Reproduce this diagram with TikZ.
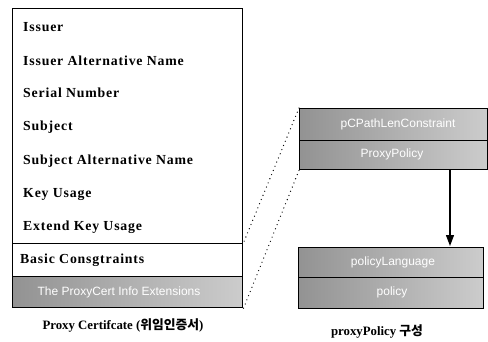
\documentclass[tikz,border=0pt]{standalone}
\usepackage{fontspec}
\setmainfont{Liberation Serif}
\newfontfamily\rowfont[LetterSpace=6]{Liberation Serif}
\newfontfamily\grayfont{Liberation Sans}
\newfontfamily\kofont{Noto Sans CJK KR}
\usetikzlibrary{arrows.meta}
\begin{document}
\begin{tikzpicture}[x=1pt,y=-1pt,
  frame/.style={draw=black,line width=1.4pt,inner sep=0pt,anchor=north west},
  grayrow/.style={frame,left color=gray!85,right color=gray!40},
  rowtext/.style={anchor=west,inner sep=0pt,font=\rowfont\bfseries\fontsize{13.8}{15}\selectfont},
  graytext/.style={inner sep=0pt,text=white,font=\grayfont\fontsize{12}{13}\selectfont},
  caption/.style={inner sep=0pt,font=\bfseries\fontsize{12.8}{14}\selectfont},
  dots/.style={line width=1.3pt,line cap=round,dash pattern=on 0pt off 4.5pt},
  arrowline/.style={line width=1.2pt,-{Triangle[length=11pt,width=8pt]}}]
\useasboundingbox (0,0) rectangle (488,341);
\fill[white] (0,0) rectangle (488,341);
% left certificate
\node[frame,minimum width=230pt,minimum height=299pt] (cert) at (12,8) {};
\node[frame,minimum width=230pt,minimum height=33pt] (basic) at (12,243) {};
\node[grayrow,minimum width=230pt,minimum height=31pt] (ext) at (12,276) {};
\node[rowtext] (r1) at (23,27) {Issuer};
\node[rowtext] (r2) at (23,61) {Issuer Alternative Name};
\node[rowtext] (r3) at (23,93) {Serial Number};
\node[rowtext] (r4) at (23,127) {Subject};
\node[rowtext] (r5) at (23,161) {Subject Alternative Name};
\node[rowtext] (r6) at (23,194) {Key Usage};
\node[rowtext] (r7) at (23,227) {Extend Key Usage};
\node[rowtext] (r8) at (20,260) {Basic Consgtraints};
\node[graytext] (r9) at (119,292) {The ProxyCert Info Extensions};
\node[caption] (cap1) at (123,325) {Proxy Certifcate ({\kofont 위임인증서})};
% right top
\node[grayrow,minimum width=188pt,minimum height=32pt] (pc) at (299,108) {};
\node[grayrow,minimum width=188pt,minimum height=29pt] (pp) at (299,140) {};
\node[graytext] (pct) at (398,124) {pCPathLenConstraint};
\node[graytext] (ppt) at (392,154) {ProxyPolicy};
% right bottom
\node[grayrow,minimum width=185pt,minimum height=30pt] (pl) at (298,247) {};
\node[grayrow,minimum width=185pt,minimum height=31pt] (po) at (298,277) {};
\node[graytext] (plt) at (393,262) {policyLanguage};
\node[graytext] (pot) at (392,292) {policy};
\node[caption] (cap2) at (377,331) {proxyPolicy {\kofont 구성}};
% connectors
\coordinate (as) at (450,169);
\coordinate (ae) at (450,246);
\draw[arrowline] (as) -- (ae);
\draw[dots] (pc.north west) -- (basic.north east);
\draw[dots] (pp.south west) -- (cert.south east);
\end{tikzpicture}
\end{document}
